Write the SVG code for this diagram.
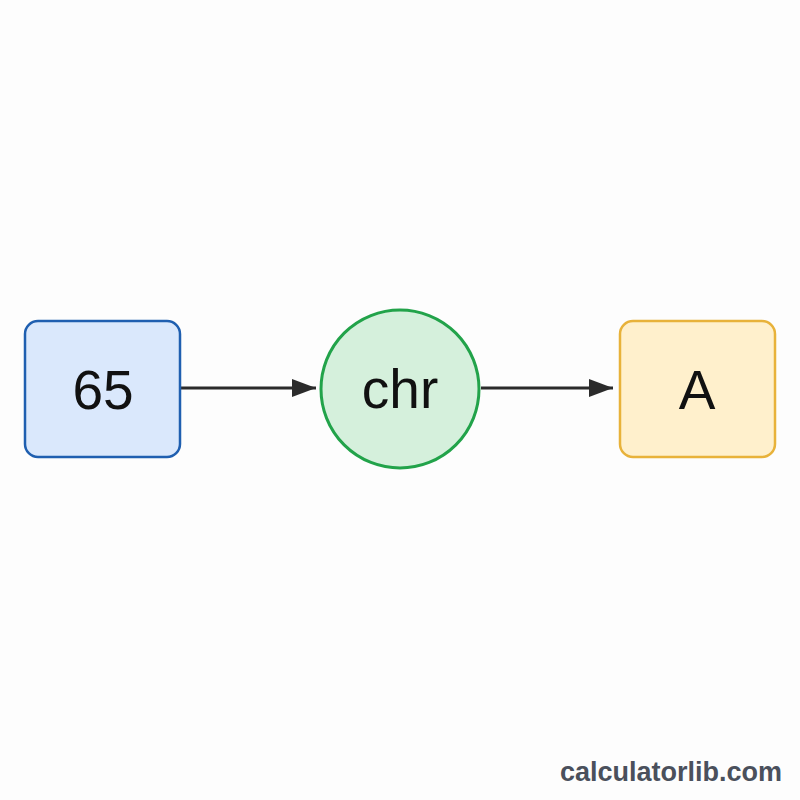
<svg xmlns="http://www.w3.org/2000/svg" width="800" height="800" viewBox="0 0 800 800">
<style>
.lbl{font-family:"Liberation Sans",Arial,sans-serif;font-size:55px;fill:#111;text-anchor:middle}
.edge{stroke:#2b2b2b;stroke-width:3;fill:none}
</style>
<defs>
<marker id="arr" viewBox="0 0 24 18" refX="24" refY="9" markerWidth="24" markerHeight="18" orient="auto" markerUnits="userSpaceOnUse">
<path d="M0,0 L24,9 L0,18 z" fill="#2b2b2b"/>
</marker>
</defs>
<rect width="800" height="800" fill="#fdfdfd"/>
<g id="connectors">
<line class="edge" x1="181" y1="388" x2="316" y2="388" marker-end="url(#arr)"/>
<line class="edge" x1="481" y1="388" x2="613" y2="388" marker-end="url(#arr)"/>
</g>
<g id="node-65">
<rect x="25" y="321" width="155" height="136" rx="13" fill="#dae8fc" stroke="#1f5fb0" stroke-width="2.5"/>
<text class="lbl" x="103" y="409">65</text>
</g>
<g id="node-chr">
<circle cx="400" cy="389" r="79" fill="#d5f0dc" stroke="#22a34a" stroke-width="3"/>
<text class="lbl" x="400" y="408">chr</text>
</g>
<g id="node-A">
<rect x="620" y="321" width="155" height="136" rx="13" fill="#fff0cc" stroke="#e8b23a" stroke-width="2.5"/>
<text class="lbl" x="697" y="409">A</text>
</g>
<text x="782" y="781" font-family="'Liberation Sans',Arial,sans-serif" font-size="27" font-weight="bold" fill="#4a505c" text-anchor="end">calculatorlib.com</text>
</svg>
